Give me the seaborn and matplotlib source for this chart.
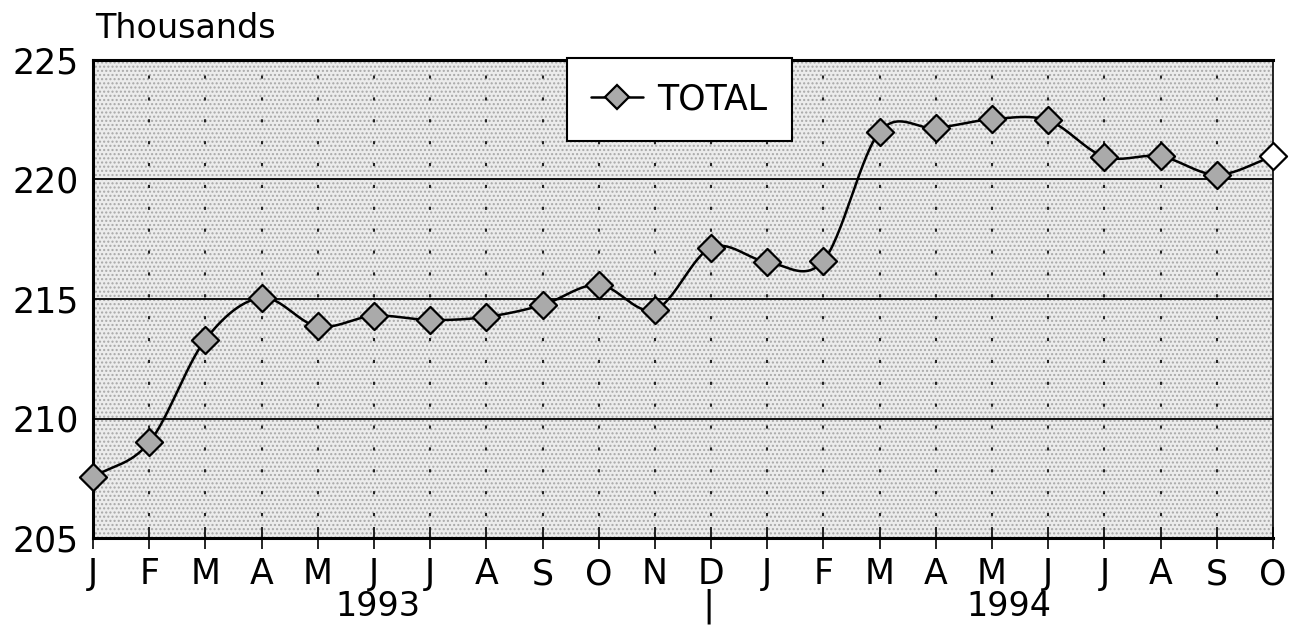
import numpy as np
import pandas as pd
import matplotlib
matplotlib.use("Agg")
import matplotlib.pyplot as plt
import seaborn as sns
from matplotlib.patches import Rectangle
import matplotlib.transforms as mtransforms
from matplotlib.lines import Line2D

months = ["J", "F", "M", "A", "M", "J", "J", "A", "S", "O", "N", "D",
          "J", "F", "M", "A", "M", "J", "J", "A", "S", "O"]
total = [207.55, 209.0, 213.3, 215.05, 213.85, 214.3, 214.12, 214.25, 214.75,
         215.6, 214.55, 217.15, 216.55, 216.6, 222.0, 222.15, 222.52, 222.47,
         220.95, 220.97, 220.2, 220.97]
years = ["1993", "1994"]
y_ticks = [205, 210, 215, 220, 225]

sns.set_theme(style="white")
plt.rcParams['font.family'] = ['DejaVu Sans']
plt.rcParams['text.color'] = 'black'
plt.rcParams['xtick.color'] = 'black'
plt.rcParams['ytick.color'] = 'black'
plt.rcParams['xtick.labelcolor'] = 'black'
plt.rcParams['ytick.labelcolor'] = 'black'

df = pd.DataFrame({"x": np.arange(len(total)), "TOTAL": total})

fig = plt.figure(figsize=(12.94, 6.34), dpi=100)
ax = fig.add_axes([93/1294, 1-538/634, 1180/1294, 478/634])
ax.set_facecolor("#ececec")
ax.add_patch(Rectangle((0, 0), 1, 1, transform=ax.transAxes, facecolor="none",
                       edgecolor="#a8a8a8", hatch="....", linewidth=0, zorder=0))

# smooth curve (Catmull-Rom through the data points)
def catmull(xs, ys, n=30):
    xs = np.asarray(xs, float); ys = np.asarray(ys, float)
    px = np.concatenate([[2*xs[0]-xs[1]], xs, [2*xs[-1]-xs[-2]]])
    py = np.concatenate([[2*ys[0]-ys[1]], ys, [2*ys[-1]-ys[-2]]])
    outx, outy = [], []
    t = np.linspace(0, 1, n, endpoint=False)
    for i in range(1, len(px)-2):
        for P, out in ((px, outx), (py, outy)):
            p0, p1, p2, p3 = P[i-1], P[i], P[i+1], P[i+2]
            out.extend(0.5*((2*p1) + (-p0+p2)*t + (2*p0-5*p1+4*p2-p3)*t**2 + (-p0+3*p1-3*p2+p3)*t**3))
    outx.append(xs[-1]); outy.append(ys[-1])
    return np.array(outx), np.array(outy)

sx, sy = catmull(df["x"], df["TOTAL"])
ax.plot(sx, sy, color="black", lw=1.8, zorder=3)
sns.scatterplot(data=df.iloc[:-1], x="x", y="TOTAL", marker="D", s=190, color="#aaaaaa",
                edgecolor="black", linewidth=1.6, zorder=4, ax=ax, legend=False)
sns.scatterplot(data=df.iloc[-1:], x="x", y="TOTAL", marker="D", s=190, color="white",
                edgecolor="black", linewidth=1.6, zorder=4, ax=ax, legend=False)
for c in ax.collections:
    c.set_clip_on(False)

ax.set_xlim(0, len(total)-1)
ax.set_ylim(205, 225)
ax.set_yticks(y_ticks)
ax.set_yticklabels([str(v) for v in y_ticks], fontsize=25, color="black")
ax.set_xticks(np.arange(len(months)))
ax.set_xticklabels(months, fontsize=25, color="black")
ax.tick_params(axis="x", direction="inout", length=16, width=1.2, color="black", pad=6, bottom=True)
ax.tick_params(axis="y", length=0, pad=10)
ax.set_xlabel(""); ax.set_ylabel("")

for v in [210, 215, 220]:
    ax.axhline(v, color="black", lw=1.3, zorder=2)
for i in range(1, len(months)-1):
    ax.axvline(i, color="#222222", lw=1.5, ls=(0, (1.5, 9)), zorder=1)

for s in ["left", "bottom", "top"]:
    ax.spines[s].set_linewidth(2.2)
    ax.spines[s].set_color("black")
ax.spines["right"].set_linewidth(1.2)
ax.spines["right"].set_color("black")

fig.text(95/1294, 1-28/634, "Thousands", fontsize=24, va="center", ha="left", color="black")

trans = mtransforms.blended_transform_factory(ax.transData, fig.transFigure)
ax.text(5.07, 1-606/634, years[0], fontsize=24, ha="center", va="center", transform=trans, color="black")
ax.text(16.3, 1-606/634, years[1], fontsize=24, ha="center", va="center", transform=trans, color="black")
ax.text(10.95, 1-606/634, "|", fontsize=26, ha="center", va="center", transform=trans, color="black")

h = Line2D([], [], color="black", lw=1.8, marker="D", markersize=12,
           markerfacecolor="#aaaaaa", markeredgecolor="black", markeredgewidth=1.6)
leg = ax.legend([h], ["TOTAL"], loc="upper left", bbox_to_anchor=(567/1294, 1-58/634),
                bbox_transform=fig.transFigure, fontsize=25, frameon=True, fancybox=False,
                handlelength=1.5, handletextpad=0.4, borderpad=0.7, borderaxespad=0)
for t in leg.get_texts():
    t.set_color("black")
leg.get_frame().set_edgecolor("black")
leg.get_frame().set_linewidth(1.5)
leg.get_frame().set_facecolor("white")
leg.get_frame().set_alpha(1)
leg.set_zorder(10)

fig.savefig("out.png", dpi=100)
